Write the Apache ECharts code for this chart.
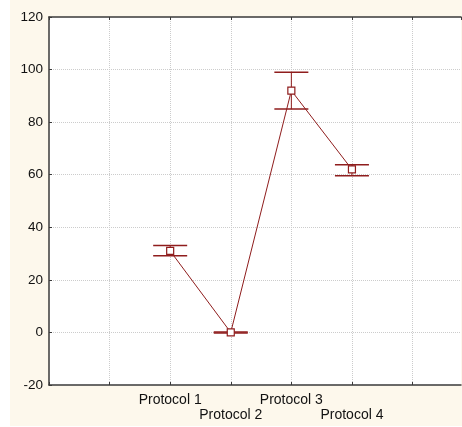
<!DOCTYPE html>
<html><head><meta charset="utf-8">
<script src="https://cdn.jsdelivr.net/npm/echarts@6/dist/echarts.min.js"></script>
<style>html,body{margin:0;padding:0;background:#fff}#c{width:462px;height:427px}</style>
</head><body><div id="c"></div>
<script>
var categories = ['Protocol 1', 'Protocol 2', 'Protocol 3', 'Protocol 4'];
var positions = [2, 3, 4, 5];
var means = [31, 0, 92, 62];
var lows = [29.2, -0.2, 85, 59.6];
var highs = [33.1, 0.2, 99, 63.8];
var yTicks = [-20, 0, 20, 40, 60, 80, 100, 120];

var RED = '#8f1d1d';
var lineData = positions.map(function (p, i) { return [p, means[i]]; });
var errData = positions.map(function (p, i) { return [p, lows[i], highs[i]]; });

var chart = echarts.init(document.getElementById('c'), null, {renderer: 'canvas'});
chart.setOption({
  backgroundColor: '#fdf8ec',
  animation: false,
  graphic: [
    {type: 'rect', left: 0, top: 0, z: -10, shape: {x: 0, y: 0, width: 10, height: 427}, style: {fill: '#ffffff'}},
    {type: 'rect', left: 0, bottom: 0, z: -10, shape: {x: 0, y: 0, width: 462, height: 1}, style: {fill: '#ffffff'}}
  ],
  grid: {left: 49, top: 17, right: 1, bottom: 42, backgroundColor: '#ffffff', show: true, borderWidth: 0},
  xAxis: [{
    type: 'value', min: 0, max: 6.8, interval: 1,
    axisLine: {show: true, onZero: false, lineStyle: {color: '#3a3a3a', width: 1.5}},
    axisTick: {show: true, inside: true, length: 3, lineStyle: {color: '#3a3a3a'}},
    splitLine: {show: true, showMaxLine: false, showMinLine: false, lineStyle: {color: '#cccccc', type: [1, 1], width: 1}},
    axisLabel: {
      show: true, color: '#111', fontSize: 14, fontFamily: 'Liberation Sans, Arial, sans-serif',
      margin: 8, lineHeight: 15, showMaxLabel: false,
      formatter: function (v) {
        var i = positions.indexOf(v);
        if (i < 0) return '';
        return (i % 2 === 0) ? categories[i] : '\n' + categories[i];
      }
    }
  }, {
    type: 'value', min: 0, max: 6.8, interval: 1, position: 'top',
    axisLine: {show: true, onZero: false, lineStyle: {color: '#3a3a3a', width: 1.5}},
    axisTick: {show: true, inside: true, length: 3, lineStyle: {color: '#3a3a3a'}},
    splitLine: {show: false}, axisLabel: {show: false}
  }],
  yAxis: {
    type: 'value', min: yTicks[0], max: yTicks[yTicks.length - 1], interval: 20,
    axisLine: {show: true, onZero: false, lineStyle: {color: '#3a3a3a', width: 1.5}},
    axisTick: {show: true, inside: true, length: 3, lineStyle: {color: '#3a3a3a'}},
    splitLine: {show: true, showMaxLine: false, showMinLine: false, lineStyle: {color: '#cccccc', type: [1, 1], width: 1}},
    axisLabel: {color: '#111', fontSize: 13.5, fontFamily: 'Liberation Sans, Arial, sans-serif', margin: 6}
  },
  series: [{
    type: 'custom', z: 2,
    data: errData,
    renderItem: function (params, api) {
      var x = api.value(0);
      var lo = api.coord([x, api.value(1)]);
      var hi = api.coord([x, api.value(2)]);
      var hw = 17;
      var st = {stroke: RED, lineWidth: 1.5};
      return {type: 'group', children: [
        {type: 'line', shape: {x1: hi[0], y1: hi[1], x2: lo[0], y2: lo[1]}, style: {stroke: RED, lineWidth: 1}},
        {type: 'line', shape: {x1: hi[0] - hw, y1: hi[1], x2: hi[0] + hw, y2: hi[1]}, style: st},
        {type: 'line', shape: {x1: lo[0] - hw, y1: lo[1], x2: lo[0] + hw, y2: lo[1]}, style: st}
      ]};
    }
  }, {
    type: 'line', z: 3,
    data: lineData,
    symbol: 'rect', symbolSize: 7,
    lineStyle: {color: RED, width: 1},
    itemStyle: {color: '#ffffff', borderColor: RED, borderWidth: 1.2}
  }]
});
</script></body></html>
